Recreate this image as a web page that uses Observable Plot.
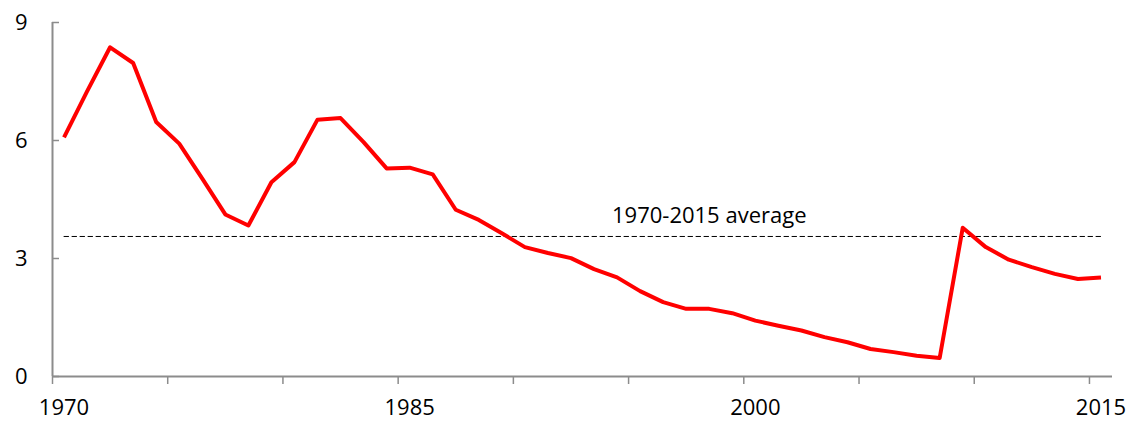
<!DOCTYPE html>
<html>
<head>
<meta charset="utf-8">
<script src="https://cdn.jsdelivr.net/npm/d3@7"></script>
<script src="https://cdn.jsdelivr.net/npm/@observablehq/plot@0.6"></script>
<style>
  html, body { margin: 0; padding: 0; background: #fff; }
  #chart svg { display: block; font-family: "Open Sans", "Noto Sans", sans-serif; }
</style>
</head>
<body>
<div id="chart"></div>
<script>
const years = d3.range(1970, 2016);
const values = [
  6.08, 7.25, 8.37, 7.97, 6.47, 5.92, 5.03, 4.12, 3.84, 4.94,
  5.45, 6.53, 6.57, 5.96, 5.29, 5.31, 5.14, 4.24, 3.98, 3.64,
  3.29, 3.14, 3.01, 2.73, 2.52, 2.17, 1.89, 1.72, 1.72, 1.61,
  1.42, 1.29, 1.17, 1.00, 0.87, 0.70, 0.62, 0.53, 0.47, 3.78,
  3.29, 2.97, 2.78, 2.61, 2.48, 2.52
];
const averageValue = 3.56;
const averageLabel = "1970-2015 average";
const averageLabelYear = 1998;
const yTicks = [0, 3, 6, 9];
const xLabelYears = [1970, 1985, 2000, 2015];
const xTickBoundaries = d3.range(1969.5, 2015, 5);

const series = years.map((year, i) => ({year, value: values[i]}));
const avgData = [{year: years[0], value: averageValue}, {year: years[years.length - 1], value: averageValue}];

const gray = "#8c8c8c";
const chart = Plot.plot({
  width: 1130,
  height: 421,
  marginLeft: 52,
  marginRight: 18,
  marginTop: 22,
  marginBottom: 45,
  style: {fontSize: "22px", fontFamily: "'Open Sans', 'Noto Sans', sans-serif", color: "#000"},
  x: {domain: [1969.5, 2015.5]},
  y: {domain: [0, 9]},
  marks: [
    Plot.axisX({ticks: xTickBoundaries, tickFormat: () => "", tickSize: 8, stroke: gray, strokeWidth: 1.5, label: null}),
    Plot.axisX({ticks: xLabelYears, tickFormat: d => String(d), tickSize: 0, tickPadding: 23, label: null, fill: "#000"}),
    Plot.axisY({ticks: yTicks, tickSize: -7, tickPadding: 32, stroke: gray, strokeWidth: 1.5, label: null, fill: "#000"}),
    Plot.ruleX([1969.5], {y1: 0, y2: 9, stroke: gray, strokeWidth: 2}),
    Plot.ruleY([0], {x1: 1969.5, x2: 2015.5, stroke: gray, strokeWidth: 2}),
    Plot.line(avgData, {x: "year", y: "value", stroke: "#000", strokeWidth: 1, strokeDasharray: "4.5,3.5"}),
    Plot.text([averageLabel], {x: averageLabelYear, y: averageValue, text: d => d, lineAnchor: "bottom", dy: -13, fill: "#000", fontSize: 22}),
    Plot.line(series, {x: "year", y: "value", stroke: "#ff0000", strokeWidth: 4, strokeLinejoin: "round", strokeLinecap: "butt"})
  ]
});
document.getElementById("chart").appendChild(chart);
</script>
</body>
</html>
